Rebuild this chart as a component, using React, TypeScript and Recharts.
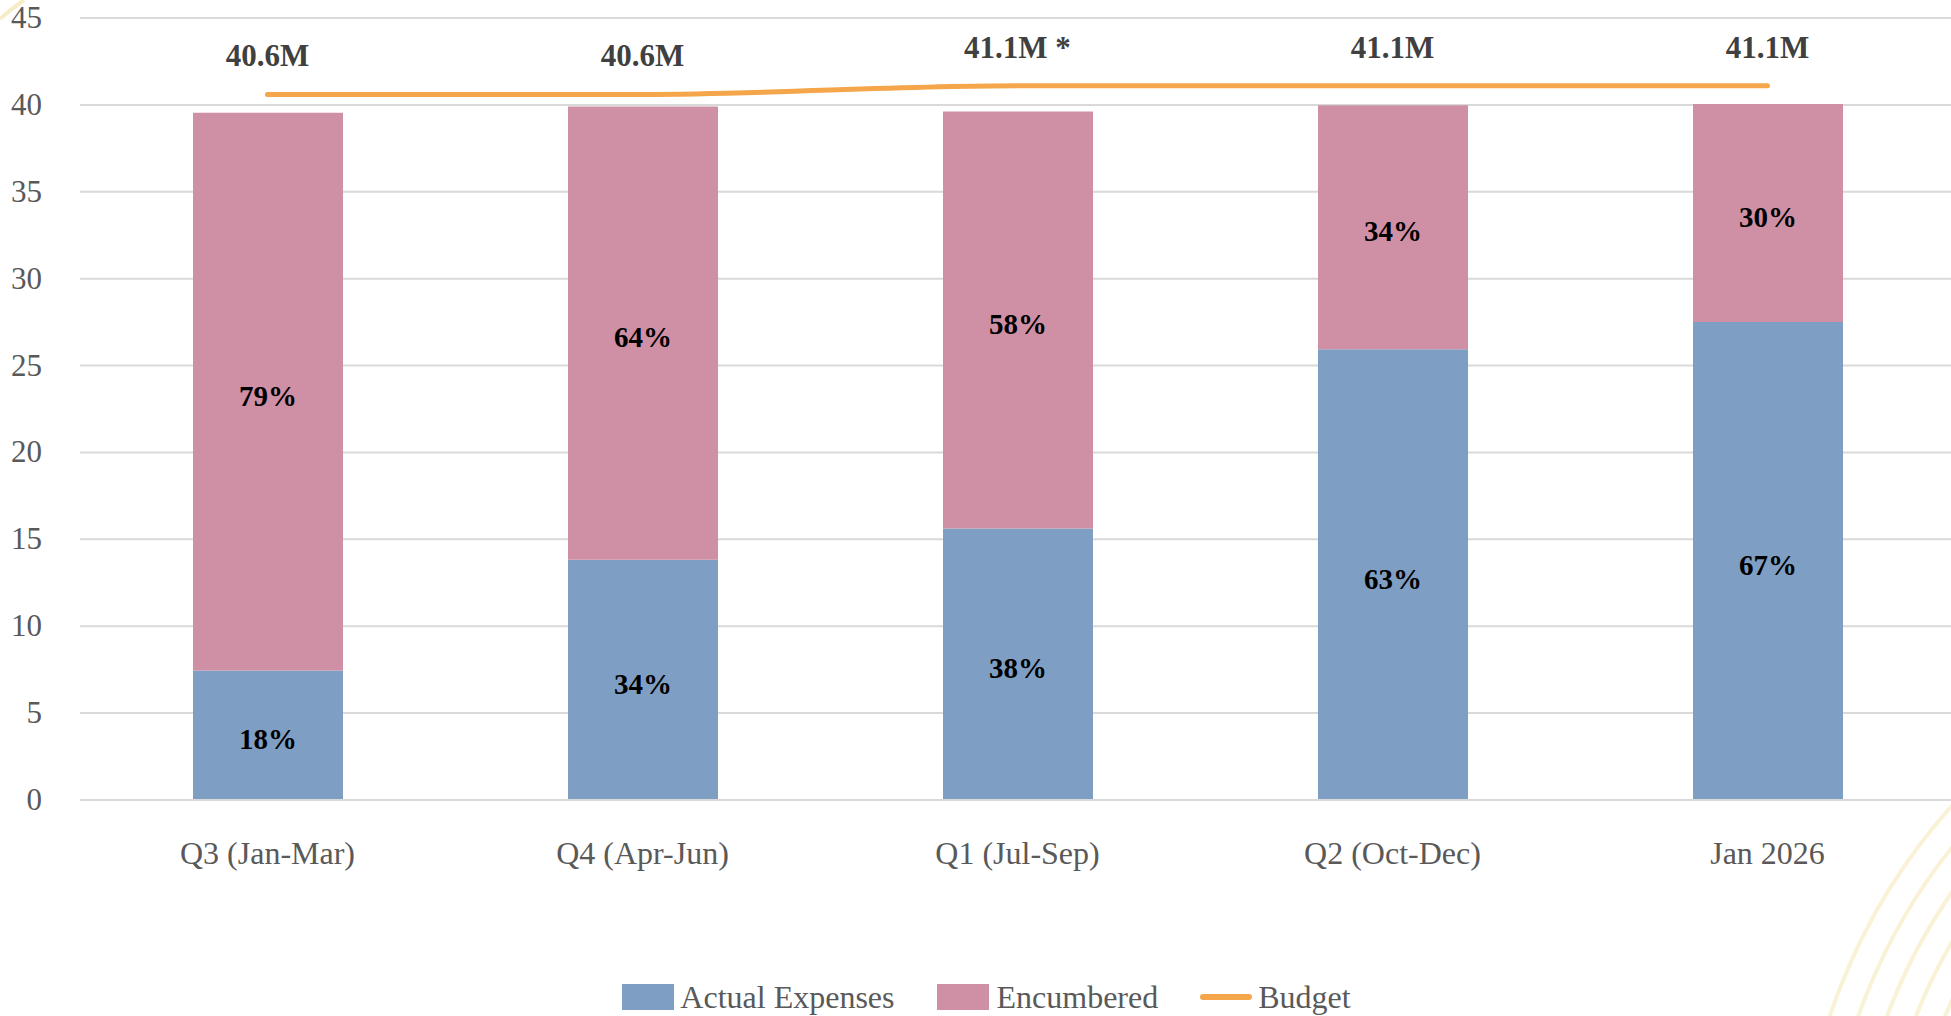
import React from 'react'
import { ComposedChart, Bar, Line, XAxis, YAxis, CartesianGrid, Legend, LabelList } from 'recharts'

const periods = ['Q3 (Jan-Mar)', 'Q4 (Apr-Jun)', 'Q1 (Jul-Sep)', 'Q2 (Oct-Dec)', 'Jan 2026']
const actualExpenses = [7.45, 13.83, 15.62, 25.94, 27.51]
const encumbered = [32.1, 26.08, 24.0, 14.04, 12.54]
const budget = [40.6, 40.6, 41.1, 41.1, 41.1]
const actualPctLabels = ['18%', '34%', '38%', '63%', '67%']
const encumberedPctLabels = ['79%', '64%', '58%', '34%', '30%']
const budgetLabels = ['40.6M', '40.6M', '41.1M *', '41.1M', '41.1M']
const yTicks = [0, 5, 10, 15, 20, 25, 30, 35, 40, 45]

const data = periods.map((period, i) => ({
  period,
  actual: actualExpenses[i],
  encumbered: encumbered[i],
  budget: budget[i],
}))

const FONT = '"Liberation Serif", "Times New Roman", serif'
const BLUE = '#7F9EC3'
const PINK = '#CF90A5'
const ORANGE = '#F5A54A'
const GRID = '#D9D9D9'
const AXIS_TEXT = '#595959'

const pctLabel = (labels: string[]) => (props: any) => {
  const vb = props.viewBox || props
  const { x, y, width, height } = vb
  return (
    <text
      x={x + width / 2}
      y={y + height / 2}
      dy={4}
      textAnchor="middle"
      dominantBaseline="central"
      fontFamily={FONT}
      fontWeight="bold"
      fontSize={29}
      fill="#000"
    >
      {labels[props.index]}
    </text>
  )
}

const budgetLabel = (props: any) => {
  const vb = props.viewBox || {}
  const x = props.x ?? vb.x
  const y = props.y ?? vb.y
  return (
    <text x={x} y={y - 28} textAnchor="middle" fontFamily={FONT} fontWeight="bold" fontSize={31} fill="#404040">
      {budgetLabels[props.index]}
    </text>
  )
}

const XTick = (props: any) => {
  const { x, y, payload } = props
  return (
    <text x={x} y={y} dy={56} textAnchor="middle" fontFamily={FONT} fontSize={32} fill={AXIS_TEXT}>
      {payload.value}
    </text>
  )
}

const YTick = (props: any) => {
  const { x, y, payload } = props
  return (
    <text x={x} y={y} dy={10} textAnchor="end" fontFamily={FONT} fontSize={31} fill={AXIS_TEXT}>
      {payload.value}
    </text>
  )
}

const LegendContent = () => (
  <div
    style={{
      display: 'flex',
      justifyContent: 'center',
      alignItems: 'center',
      height: 46,
      paddingLeft: 18,
      paddingTop: 4,
      fontFamily: FONT,
      fontSize: 32,
      color: AXIS_TEXT,
    }}
  >
    <span style={{ display: 'inline-block', width: 52, height: 26, background: BLUE, marginRight: 6 }} />
    <span style={{ marginRight: 42 }}>Actual Expenses</span>
    <span style={{ display: 'inline-block', width: 52, height: 26, background: PINK, marginRight: 8 }} />
    <span style={{ marginRight: 42 }}>Encumbered</span>
    <span style={{ display: 'inline-block', width: 52, height: 6, borderRadius: 3, background: ORANGE, marginRight: 6 }} />
    <span>Budget</span>
  </div>
)

export default function App() {
  return (
    <div style={{ position: 'relative', width: 1951, height: 1016, background: '#fff', overflow: 'hidden' }}>
      <style>{'body{margin:0}'}</style>
      <svg width={1951} height={1016} style={{ position: 'absolute', left: 0, top: 0 }}>
        <path d="M0,19 Q11,9 24,0" fill="none" stroke="#F6EDC8" strokeWidth={4} />
        {[600, 573, 546, 519, 492].map((r) => (
          <circle key={r} cx={2399} cy={1206} r={r} fill="none" stroke="#FAF2D6" strokeWidth={4} />
        ))}
      </svg>
      <div style={{ position: 'absolute', left: 0, top: 0 }}>
        <ComposedChart
          width={1951}
          height={1016}
          data={data}
          margin={{ top: 18, right: -4, left: 0, bottom: 0 }}
          barSize={150}
        >
          <CartesianGrid vertical={false} stroke={GRID} strokeWidth={2} />
          <XAxis
            dataKey="period"
            axisLine={{ stroke: GRID, strokeWidth: 2 }}
            tickLine={false}
            tick={<XTick />}
            height={170}
            interval={0}
          />
          <YAxis
            domain={[0, 45]}
            ticks={yTicks}
            axisLine={false}
            tickLine={false}
            tickSize={0}
            tickMargin={38}
            width={80}
            tick={<YTick />}
            interval={0}
          />
          <Legend verticalAlign="bottom" height={46} content={<LegendContent />} />
          <Bar dataKey="actual" name="Actual Expenses" stackId="a" fill={BLUE} isAnimationActive={false}>
            <LabelList dataKey="actual" content={pctLabel(actualPctLabels)} />
          </Bar>
          <Bar dataKey="encumbered" name="Encumbered" stackId="a" fill={PINK} isAnimationActive={false}>
            <LabelList dataKey="encumbered" content={pctLabel(encumberedPctLabels)} />
          </Bar>
          <Line
            type="monotone"
            dataKey="budget"
            name="Budget"
            stroke={ORANGE}
            strokeWidth={5}
            strokeLinecap="round"
            dot={false}
            activeDot={false}
            isAnimationActive={false}
          >
            <LabelList dataKey="budget" content={budgetLabel} />
          </Line>
        </ComposedChart>
      </div>
    </div>
  )
}
